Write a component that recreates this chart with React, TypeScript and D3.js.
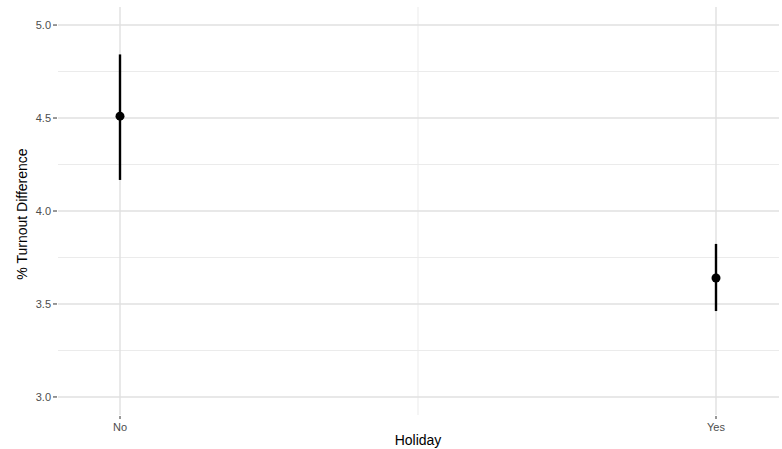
import { useMemo } from "react";
import * as d3 from "d3";

const WIDTH = 782;
const HEIGHT = 449;

const categories = ["No", "Yes"];
const estimates = [4.51, 3.64];
const lower = [4.167, 3.462];
const upper = [4.842, 3.823];
const yTicks = [3.0, 3.5, 4.0, 4.5, 5.0];
const yMinor = [3.25, 3.75, 4.25, 4.75];

const PANEL = { left: 58, right: 779, top: 7, bottom: 415 };

export default function App() {
  const x = useMemo(
    () => d3.scalePoint<string>().domain(categories).range([120, 716]),
    []
  );
  const y = useMemo(
    () =>
      d3.scaleLinear().domain([2.903, 5.097]).range([PANEL.bottom, PANEL.top]),
    []
  );

  const midX = ((x("No") ?? 0) + (x("Yes") ?? 0)) / 2;
  const font = "'Liberation Sans', Arial, Helvetica, sans-serif";

  return (
    <svg
      width={WIDTH}
      height={HEIGHT}
      style={{ position: "absolute", left: 0, top: 0, background: "#fff" }}
      fontFamily={font}
    >
      {/* grid */}
      {yMinor.map((t) => (
        <line
          key={"mn" + t}
          x1={PANEL.left}
          x2={PANEL.right}
          y1={y(t)}
          y2={y(t)}
          stroke="#ebebeb"
          strokeWidth={1}
        />
      ))}
      <line
        x1={midX}
        x2={midX}
        y1={PANEL.top}
        y2={PANEL.bottom}
        stroke="#ebebeb"
        strokeWidth={1}
      />
      {yTicks.map((t) => (
        <line
          key={"mj" + t}
          x1={PANEL.left}
          x2={PANEL.right}
          y1={y(t)}
          y2={y(t)}
          stroke="#e0e0e0"
          strokeWidth={1.4}
        />
      ))}
      {categories.map((c) => (
        <line
          key={"vx" + c}
          x1={x(c)}
          x2={x(c)}
          y1={PANEL.top}
          y2={PANEL.bottom}
          stroke="#e0e0e0"
          strokeWidth={1.4}
        />
      ))}

      {/* y axis */}
      {yTicks.map((t) => (
        <g key={"yt" + t} transform={`translate(0,${y(t)})`}>
          <line x1={53} x2={57} stroke="#333" strokeWidth={1} />
          <text
            x={51}
            dy="0.35em"
            textAnchor="end"
            fontSize={11}
            fill="#4d4d4d"
          >
            {t.toFixed(1)}
          </text>
        </g>
      ))}

      {/* x axis */}
      {categories.map((c) => (
        <g key={"xt" + c} transform={`translate(${x(c)},0)`}>
          <line y1={PANEL.bottom + 1} y2={PANEL.bottom + 4} stroke="#333" />
          <text
            y={PANEL.bottom + 16}
            textAnchor="middle"
            fontSize={11}
            fill="#4d4d4d"
          >
            {c}
          </text>
        </g>
      ))}

      {/* titles */}
      <text x={midX} y={445} textAnchor="middle" fontSize={14} fill="#000">
        Holiday
      </text>
      <text
        transform={`translate(27,${(PANEL.top + PANEL.bottom) / 2 + 3}) rotate(-90)`}
        textAnchor="middle"
        fontSize={14}
        fill="#000"
      >
        % Turnout Difference
      </text>

      {/* error bars + points */}
      {categories.map((c, i) => (
        <g key={"pt" + c}>
          <line
            x1={x(c)}
            x2={x(c)}
            y1={y(lower[i])}
            y2={y(upper[i])}
            stroke="#000"
            strokeWidth={2.4}
          />
          <circle cx={x(c)} cy={y(estimates[i])} r={4.5} fill="#000" />
        </g>
      ))}
    </svg>
  );
}
